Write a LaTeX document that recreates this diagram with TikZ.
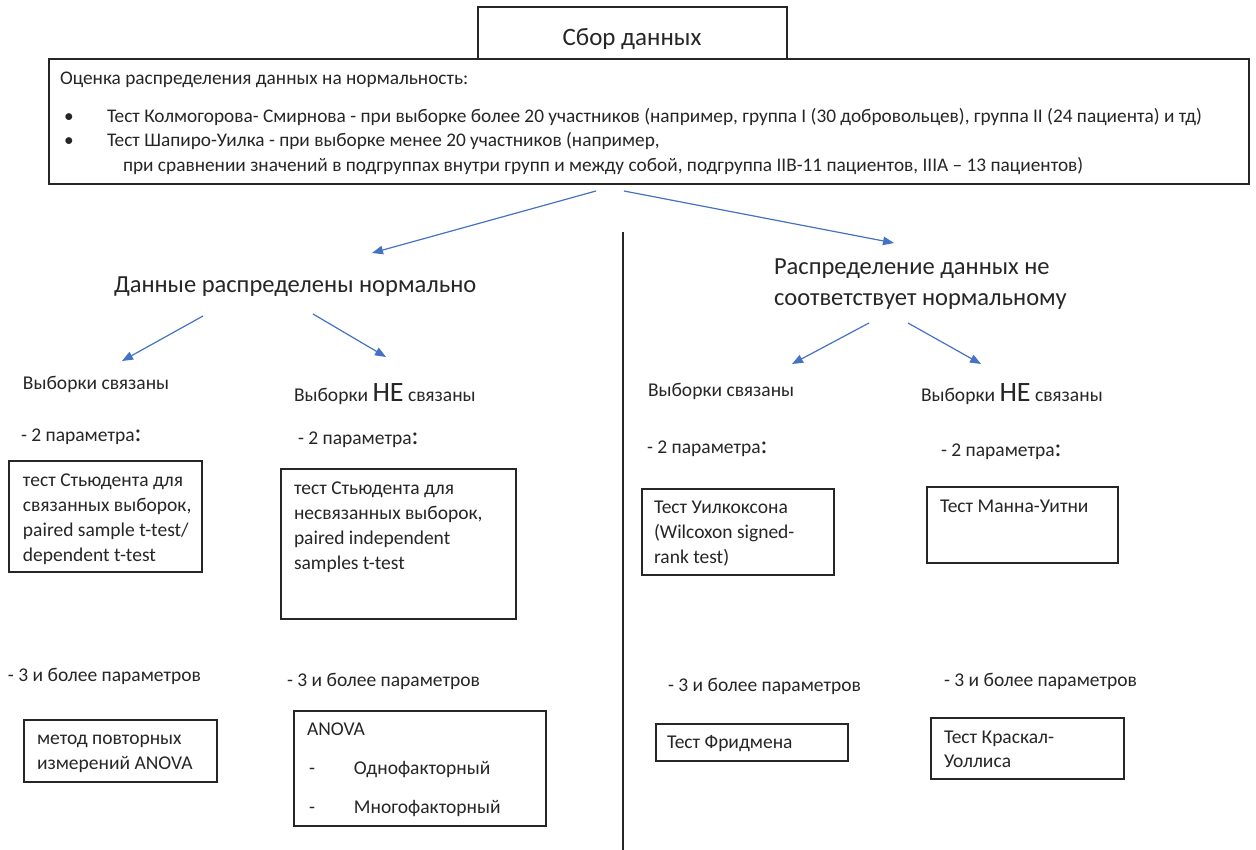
\documentclass[tikz,border=0pt]{standalone}
\usepackage{fontspec}
\setmainfont{Carlito}
\usetikzlibrary{arrows.meta}
\newcommand\fsz[2]{\fontsize{#1}{#2}\selectfont}
\definecolor{arrowblue}{HTML}{4472C4}
\definecolor{ink}{HTML}{262626}
\begin{document}
\begin{tikzpicture}[x=1pt,y=-1pt,
  box/.style={draw=ink, line width=1.3pt, inner sep=0pt, outer sep=0pt, anchor=north west},
  txt/.style={inner sep=0pt, outer sep=0pt, anchor=base west, font=\fsz{19.5}{25}, text=ink},
  btxt/.style={inner sep=0pt, outer sep=0pt, anchor=north west, align=left, font=\fsz{19.5}{25}, text=ink},
  mtxt/.style={txt, font=\fsz{19.3}{24}},
  head/.style={inner sep=0pt, outer sep=0pt, font=\fsz{24.5}{31}, text=ink},
  arr/.style={draw=arrowblue, line width=1.2pt, -{Triangle[length=11pt,width=8.5pt]}},
  sep/.style={draw=ink, line width=1.4pt}
]
\useasboundingbox (0,0) rectangle (1256,850);
\fill[white] (0,0) rectangle (1256,850);

% top boxes
\node[box, fill=white, minimum width=309pt, minimum height=52pt] (top) at (478,7) {};
\node[head, anchor=base, font=\fsz{25}{30}] (toptxt) at (632,45.5) {Сбор данных};
\node[box, minimum width=1200pt, minimum height=125pt] (main) at (49,59) {};
\node[mtxt] (m1) at (60,85) {Оценка распределения данных на нормальность:};
\node[mtxt] (bul1) at (64,123) {\textbullet};
\node[mtxt] (m2) at (107,123) {Тест Колмогорова- Смирнова - при выборке более 20 участников (например, группа I (30 добровольцев), группа II (24 пациента) и тд)};
\node[mtxt] (bul2) at (64,147) {\textbullet};
\node[mtxt] (m3) at (107,147) {Тест Шапиро-Уилка - при выборке менее 20 участников (например,};
\node[mtxt] (m4) at (123,172) {при сравнении значений в подгруппах внутри групп и между собой, подгруппа IIB-11 пациентов, IIIA – 13 пациентов)};

% separator
\draw[sep] (623,232) -- (623,851);

% headings
\node[head, anchor=base west] (norm) at (114,293) {Данные распределены нормально};
\node[head, anchor=north west, align=left] (nonnorm) at (774,253.3) {\strut Распределение данных не\\соответствует нормальному};

% sub headings
\node[txt] (sv1) at (23,389) {Выборки связаны};
\node[txt] (nsv1) at (294,401) {Выборки {\fsz{28}{30}НЕ} связаны};
\node[txt] (sv2) at (648,396) {Выборки связаны};
\node[txt] (nsv2) at (921,401) {Выборки {\fsz{28}{30}НЕ} связаны};

% arrows
\draw[arr] ([shift={(-53,7)}]main.south) -- ([shift={(258,-40)}]norm.base west);
\draw[arr] ([shift={(-25,7)}]main.south) -- ([shift={(120,-10.3)}]nonnorm.north west);
\draw[arr] ([shift={(89,23)}]norm.base west) -- ([shift={(99,-28)}]sv1.base west);
\draw[arr] ([shift={(199,21)}]norm.base west) -- ([shift={(92,-44)}]nsv1.base west);
\draw[arr] ([shift={(95,69.7)}]nonnorm.north west) -- ([shift={(144,-32)}]sv2.base west);
\draw[arr] ([shift={(134,69.7)}]nonnorm.north west) -- ([shift={(60,-37)}]nsv2.base west);

% "- 2 параметра:"
\node[txt] (p2a) at (21,441) {- 2 параметра{\fsz{26}{26}:}};
\node[txt] (p2b) at (298,444) {- 2 параметра{\fsz{26}{26}:}};
\node[txt] (p2c) at (647,453) {- 2 параметра{\fsz{26}{26}:}};
\node[txt] (p2d) at (941,456) {- 2 параметра{\fsz{26}{26}:}};

% "- 3 и более параметров"
\node[txt] (p3a) at (8,681) {- 3 и более параметров};
\node[txt] (p3b) at (287,686) {- 3 и более параметров};
\node[txt] (p3c) at (668,691) {- 3 и более параметров};
\node[txt] (p3d) at (944,686) {- 3 и более параметров};

% boxes, two parameters
\node[box, minimum width=193pt, minimum height=111pt] (b1) at (9,461) {};
\node[btxt] (b1t) at (23,468.5) {\strut тест Стьюдента для\\связанных выборок,\\paired sample t-test/\\dependent t-test};
\node[box, minimum width=235pt, minimum height=150pt] (b2) at (281,469) {};
\node[btxt] (b2t) at (294,476.5) {\strut тест Стьюдента для\\несвязанных выборок,\\paired independent\\samples t-test};
\node[box, minimum width=192pt, minimum height=86pt] (b3) at (642,489) {};
\node[btxt] (b3t) at (654,495.5) {\strut Тест Уилкоксона\\(Wilcoxon signed-\\rank test)};
\node[box, minimum width=191pt, minimum height=76pt] (b4) at (927,487) {};
\node[txt] (b4t) at (940,512) {Тест Манна-Уитни};

% boxes, three or more parameters
\node[box, minimum width=193pt, minimum height=62pt] (b5) at (24,720) {};
\node[btxt] (b5t) at (37,726.5) {\strut метод повторных\\измерений ANOVA};
\node[box, minimum width=252pt, minimum height=115pt] (b6) at (294,711) {};
\node[btxt, font=\fsz{19.5}{39}] (b6t) at (307,707.7) {\strut ANOVA\\\makebox[47pt][l]{\hspace{2pt}-}Однофакторный\\\makebox[47pt][l]{\hspace{2pt}-}Многофакторный};
\node[box, minimum width=192pt, minimum height=37pt] (b7) at (656,724) {};
\node[txt] (b7t) at (667,748) {Тест Фридмена};
\node[box, minimum width=193pt, minimum height=61pt] (b8) at (931,718) {};
\node[btxt, font=\fsz{19.5}{24}] (b8t) at (944,726.2) {\strut Тест Краскал-\\Уоллиса};
\end{tikzpicture}
\end{document}
